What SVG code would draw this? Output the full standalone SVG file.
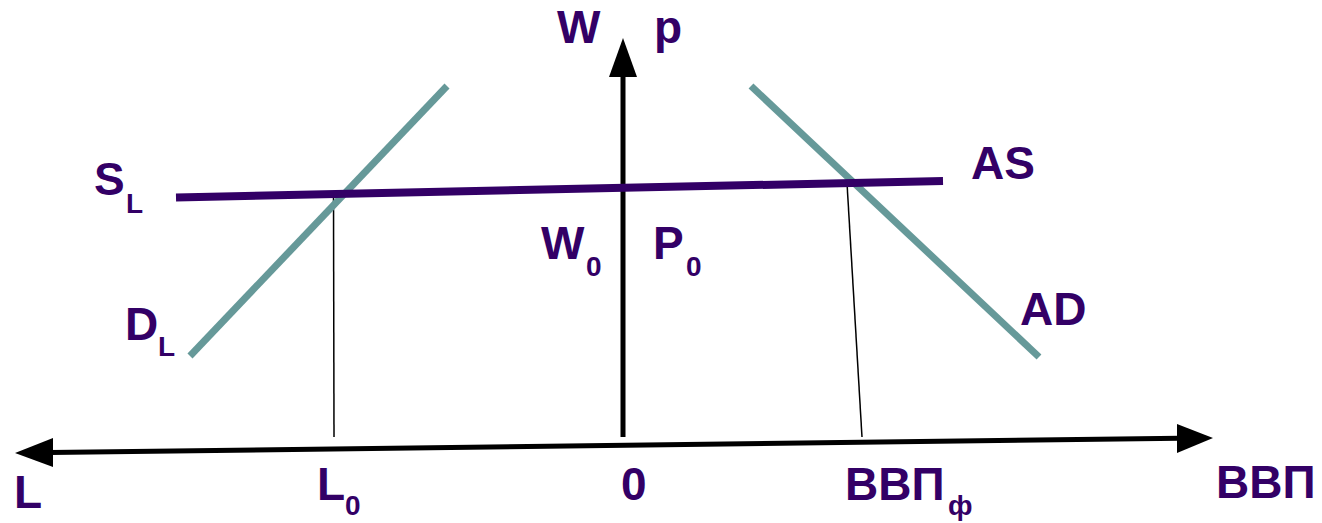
<svg xmlns="http://www.w3.org/2000/svg" width="1322" height="523" viewBox="0 0 1322 523">
<style>
text{font-family:"Liberation Sans",Arial,sans-serif;font-weight:bold;fill:#330066}
.b{font-size:46px}
.s{font-size:28px}
.teal{stroke:#669999;stroke-width:7;fill:none}
.thin{stroke:#000;stroke-width:1.5;fill:none}
</style>
<rect width="1322" height="523" fill="#fff"/>
<g id="connectors">
<line x1="623" y1="437" x2="623" y2="72" stroke="#000" stroke-width="5"/>
<polygon points="623,38 609,77 637,77" fill="#000"/>
<line x1="50" y1="452.5" x2="1180" y2="438.3" stroke="#000" stroke-width="5"/>
<polygon points="15,453 53,438 53,467" fill="#000"/>
<polygon points="1213,438 1177,424 1177,453" fill="#000"/>
<line class="thin" x1="333.5" y1="195" x2="334" y2="437"/>
<line class="thin" x1="847" y1="183" x2="862" y2="437"/>
</g>
<g id="DL"><line class="teal" x1="190" y1="356" x2="447" y2="86"/></g>
<g id="AD"><line class="teal" x1="751" y1="86" x2="1039" y2="357"/></g>
<g id="SL-AS"><line x1="176" y1="197.5" x2="943" y2="181" stroke="#330066" stroke-width="8"/></g>
<g id="labels">
<text class="b" x="557" y="43">W</text>
<text class="b" x="654" y="43">p</text>
<text class="b" x="94" y="195">S</text><text class="s" x="126" y="213">L</text>
<text class="b" x="541" y="259">W</text><text class="s" x="586" y="276">0</text>
<text class="b" x="653" y="259">P</text><text class="s" x="686" y="276">0</text>
<text class="b" x="125" y="340">D</text><text class="s" x="158" y="356">L</text>
<text class="b" x="971" y="179">AS</text>
<text class="b" x="1020" y="325">AD</text>
<text class="b" x="14" y="508">L</text>
<text class="b" x="317" y="500">L</text><text class="s" x="345" y="515">0</text>
<text class="b" x="621" y="500">0</text>
<text class="b" x="845" y="500">ВВП</text><text class="s" x="948" y="515">ф</text>
<text class="b" x="1216" y="498">ВВП</text>
</g>
</svg>
